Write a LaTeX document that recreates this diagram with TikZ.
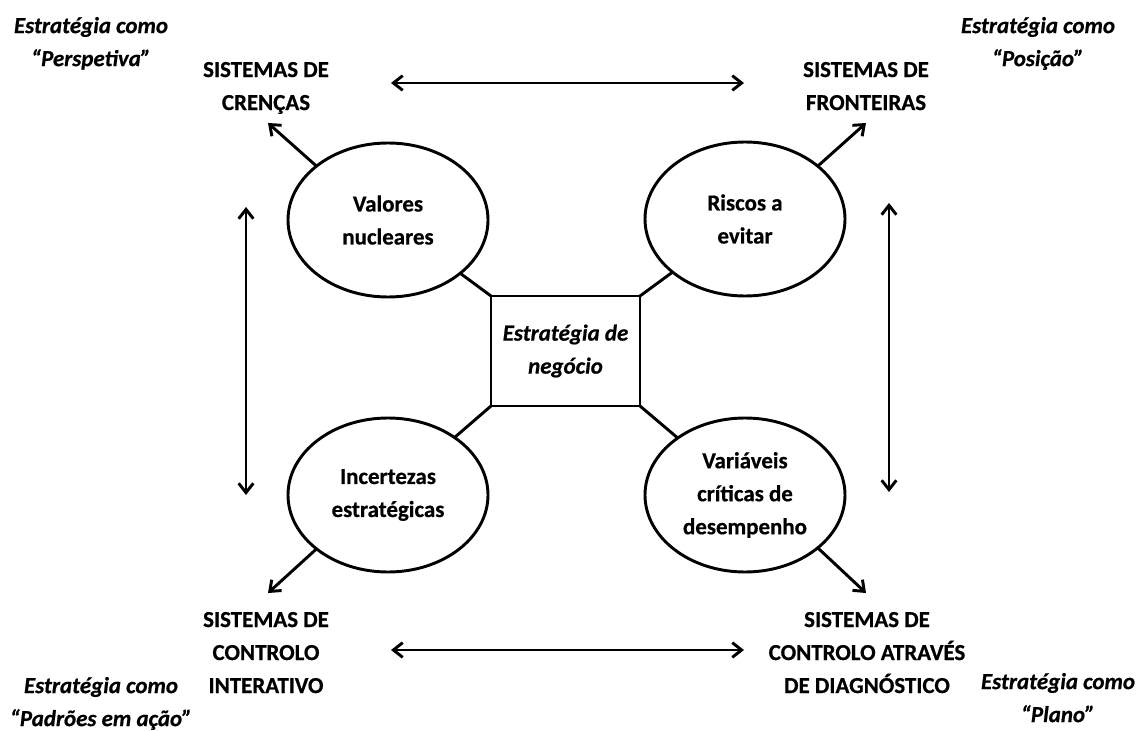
\documentclass[tikz,border=0pt]{standalone}
\usepackage{fontspec}
\setmainfont{Carlito}[BoldFeatures={FakeBold=0.6},BoldItalicFeatures={FakeBold=0.6}]
\usetikzlibrary{shapes.geometric,arrows.meta}

\begin{document}
\begin{tikzpicture}[x=0.75pt,y=-0.75pt,
  every node/.style={inner sep=0pt, outer sep=0pt},
  txt/.style={font=\bfseries\fontsize{17.2}{24.75}\selectfont, align=center},
  itxt/.style={font=\bfseries\itshape\fontsize{17.2}{24.75}\selectfont, align=center},
  oval/.style={ellipse, draw, line width=2.2pt, minimum width=150pt, minimum height=115.5pt, txt},
  core/.style={rectangle, draw, line width=2.2pt, minimum width=111.75pt, minimum height=82.5pt, itxt},
  link/.style={line width=2.2pt},
  arr/.style={line width=2.2pt, -{Straight Barb[length=7pt,width=11pt]}},
  darr/.style={line width=2.2pt, {Straight Barb[length=7pt,width=11pt]}-{Straight Barb[length=7pt,width=11pt]}}
]
\useasboundingbox[fill=white] (0,0) rectangle (1139,731);

% central box
\node[core] (strat) at (565.5,351) {Estratégia de\\negócio};

% the four levers
\node[oval] (vn) at (388,220) {Valores\\nucleares};
\node[oval] (ra) at (745,219) {Riscos a\\evitar};
\node[oval] (ie) at (388,495) {Incertezas\\estratégicas};
\node[oval] (vc) at (745,495) {Variáveis\\críticas de\\desempenho};

% links from the central box
\draw[link] (strat.north west) -- (vn);
\draw[link] (strat.north east) -- (ra);
\draw[link] (strat.south west) -- (ie);
\draw[link] (strat.south east) -- (vc);

% control systems
\node[txt, anchor=north] (sc) at (266,62) {SISTEMAS DE\\CRENÇAS};
\node[txt, anchor=north] (sf) at (866,62) {SISTEMAS DE\\FRONTEIRAS};
\node[txt, anchor=north] (si) at (266,612) {SISTEMAS DE\\CONTROLO\\INTERATIVO};
\node[txt, anchor=north] (sd) at (867,612) {SISTEMAS DE\\CONTROLO ATRAVÉS\\DE DIAGNÓSTICO};

% strategy views
\node[itxt, anchor=north] (ep) at (91,17) {Estratégia como\\“Perspetiva”};
\node[itxt, anchor=north] (eo) at (1038,17) {Estratégia como\\“Posição”};
\node[itxt, anchor=north] (ea) at (101,677) {Estratégia como\\“Padrões em ação”};
\node[itxt, anchor=north] (el) at (1058,673) {Estratégia como\\“Plano”};

% arrow ends
\coordinate (tlTip) at (268,123);
\coordinate (trTip) at (866,123);
\coordinate (blTip) at (268,593);
\coordinate (brTip) at (866,593);
\coordinate (topL) at (391,83);
\coordinate (topR) at (744,83);
\coordinate (botL) at (391,650);
\coordinate (botR) at (744,650);
\coordinate (lefT) at (246,207);
\coordinate (lefB) at (246,495);
\coordinate (rigT) at (889,203);
\coordinate (rigB) at (889,492);

% arrows from the levers to their systems
\draw[arr] (vn.143) -- (tlTip);
\draw[arr] (ra.36) -- (trTip);
\draw[arr] (ie.-143) -- (blTip);
\draw[arr] (vc.-36) -- (brTip);

% tensions between systems
\draw[darr] (topL) -- (topR);
\draw[darr] (botL) -- (botR);
\draw[darr] (lefT) -- (lefB);
\draw[darr] (rigT) -- (rigB);
\end{tikzpicture}
\end{document}
